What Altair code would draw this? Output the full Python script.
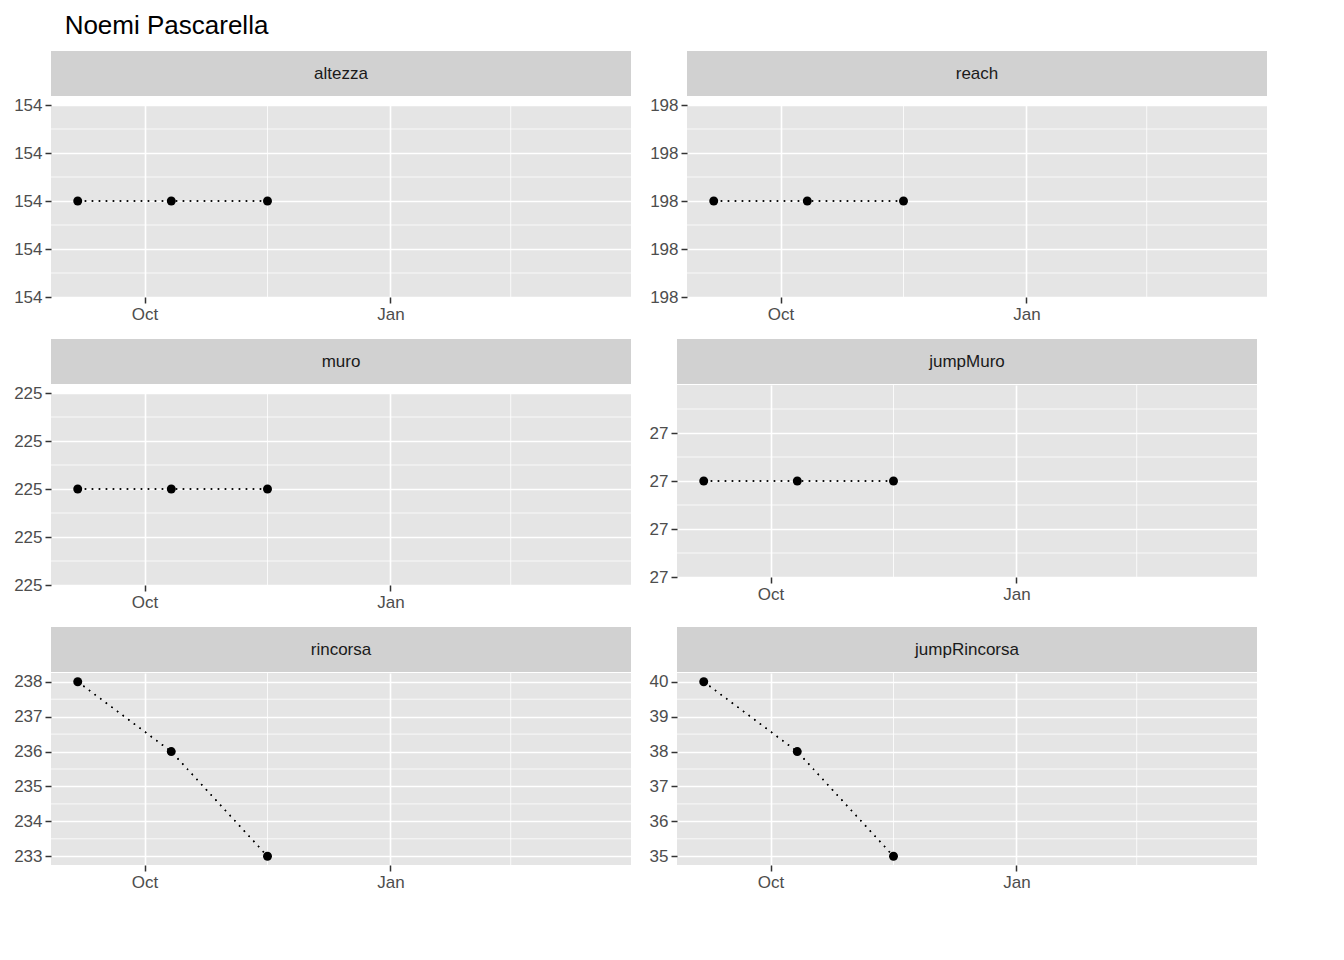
import altair as alt
import pandas as pd

dates = ["2023-09-06", "2023-10-11", "2023-11-16"]
panels = ["altezza", "reach", "muro", "jumpMuro", "rincorsa", "jumpRincorsa"]
values = {
    "altezza": [154, 154, 154],
    "reach": [198, 198, 198],
    "muro": [225, 225, 225],
    "jumpMuro": [27, 27, 27],
    "rincorsa": [238, 236, 233],
    "jumpRincorsa": [40, 38, 35],
}
y_domains = {
    "altezza": [153.95, 154.05], "reach": [197.95, 198.05], "muro": [224.95, 225.05],
    "jumpMuro": [26.95, 27.05], "rincorsa": [232.75, 238.25], "jumpRincorsa": [34.75, 40.25],
}
y_ticks = {
    "altezza": [153.95, 153.975, 154, 154.025, 154.05],
    "reach": [197.95, 197.975, 198, 198.025, 198.05],
    "muro": [224.95, 224.975, 225, 225.025, 225.05],
    "jumpMuro": [26.95, 26.975, 27, 27.025],
    "rincorsa": [233, 234, 235, 236, 237, 238],
    "jumpRincorsa": [35, 36, 37, 38, 39, 40],
}
x_minor = ["2023-11-16", "2024-02-15"]

W, H, SH = 580, 192, 45
FONT = "Liberation Sans"
x_scale = alt.Scale(domain=[alt.DateTime(year=2023, month=8, date=27),
                            alt.DateTime(year=2024, month=3, date=31)])

def minor_vals(t):
    out = [(a + b) / 2 for a, b in zip(t[:-1], t[1:])]
    if len(t) == 4:
        out.append(t[-1] + (t[1] - t[0]) / 2)
    return out

def panel(name):
    df = pd.DataFrame({"date": dates, "v": values[name]})
    ysc = alt.Scale(domain=y_domains[name], nice=False, zero=False)
    xax = alt.Axis(values=[alt.DateTime(year=2023, month=10, date=1),
                           alt.DateTime(year=2024, month=1, date=1)],
                   format="%b", title=None, grid=True, gridColor="white", gridWidth=1.6,
                   domain=False, tickColor="#333333", tickWidth=1.5, tickSize=6,
                   labelColor="#4d4d4d", labelFont=FONT, labelFontSize=17, labelPadding=3)
    yax = alt.Axis(values=y_ticks[name], format=".0f", title=None, grid=True,
                   gridColor="white", gridWidth=1.6, domain=False, tickColor="#333333",
                   tickWidth=1.5, tickSize=6, labelColor="#4d4d4d", labelFont=FONT,
                   labelFontSize=17, labelPadding=3)
    line = alt.Chart(df).mark_line(color="black", strokeWidth=1.5, strokeDash=[1.5, 5.5]).encode(
        x=alt.X("date:T", scale=x_scale, axis=xax), y=alt.Y("v:Q", scale=ysc, axis=yax))
    ymin = alt.Chart(pd.DataFrame({"m": minor_vals(y_ticks[name])})).mark_rule(
        color="white", strokeWidth=0.8).encode(y=alt.Y("m:Q", scale=ysc, axis=yax))
    xmin = alt.Chart(pd.DataFrame({"d": x_minor})).mark_rule(
        color="white", strokeWidth=0.8).encode(x=alt.X("d:T", scale=x_scale, axis=xax))
    pts = alt.Chart(df).mark_circle(color="black", opacity=1, size=80).encode(
        x=alt.X("date:T", scale=x_scale, axis=xax), y=alt.Y("v:Q", scale=ysc, axis=yax))
    body = alt.layer(line, ymin, xmin, line, pts).properties(width=W, height=H)
    strip_bg = alt.Chart(pd.DataFrame({"t": [name]})).mark_rect(color="#d1d1d1").encode(
        x=alt.value(0), x2=alt.value(W), y=alt.value(0), y2=alt.value(SH))
    strip_tx = alt.Chart(pd.DataFrame({"t": [name]})).mark_text(
        font=FONT, fontSize=17, color="#1a1a1a").encode(
        x=alt.value(W / 2), y=alt.value(SH / 2), text="t:N")
    strip = alt.layer(strip_bg, strip_tx).properties(width=W, height=SH)
    return alt.vconcat(strip, body, spacing=0)

rows = []
for i in range(0, 6, 2):
    rows.append(alt.hconcat(panel(panels[i]), panel(panels[i + 1]), spacing=17))

chart = alt.vconcat(*rows, spacing=17).properties(
    title=alt.TitleParams("Noemi Pascarella", anchor="start", dx=51, font=FONT,
                          fontSize=26, fontWeight="normal", color="black", offset=12)
).configure(background="white").configure_view(fill="#e5e5e5", stroke=None)

chart.save("out.html", embed_options={"renderer": "svg", "actions": False})
